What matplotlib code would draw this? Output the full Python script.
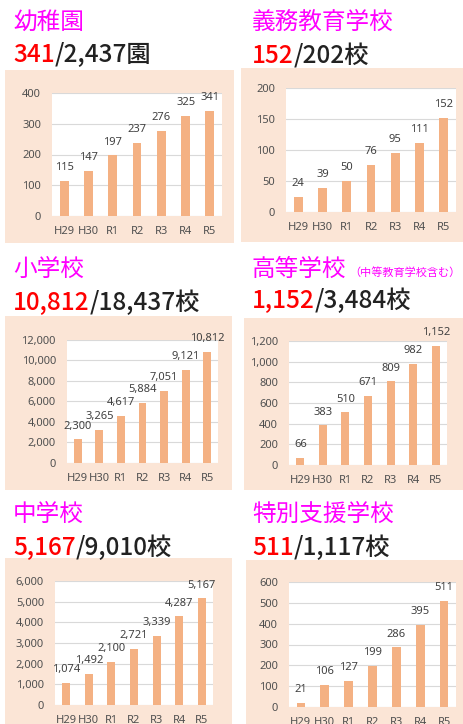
import matplotlib
matplotlib.use("Agg")
import matplotlib.pyplot as plt
from matplotlib.patches import Rectangle

W, H = 464, 724

years = ["H29", "H30", "R1", "R2", "R3", "R4", "R5"]
kindergarten = [115, 147, 197, 237, 276, 325, 341]
compulsory = [24, 39, 50, 76, 95, 111, 152]
elementary = [2300, 3265, 4617, 5884, 7051, 9121, 10812]
high_school = [66, 383, 510, 671, 809, 982, 1152]
junior_high = [1074, 1492, 2100, 2721, 3339, 4287, 5167]
special_needs = [21, 106, 127, 199, 286, 395, 511]

titles = ["幼稚園", "義務教育学校", "小学校", "高等学校", "中学校", "特別支援学校"]
current = ["341", "152", "10,812", "1,152", "5,167", "511"]
totals = ["/2,437園", "/202校", "/18,437校", "/3,484校", "/9,010校", "/1,117校"]
series = [kindergarten, compulsory, elementary, high_school, junior_high, special_needs]
y_max = [400, 200, 12000, 1200, 6000, 600]
y_step = [100, 50, 2000, 200, 1000, 100]

# layout in pixels (x0, y0, x1, y1), y from top
boxes = [(5, 70, 234, 243), (241, 68, 464, 242), (5, 316, 232, 490),
         (244, 318, 464, 490), (5, 558, 232, 724), (246, 560, 464, 724)]
plots = [(52, 93, 222, 216), (286, 88, 456, 212), (67, 340, 218, 463),
         (289, 341, 447, 465), (55, 581, 213, 705), (289, 582, 456, 707)]
title_pos = [(13, 22), (252, 22), (13, 269), (252, 269), (13, 514), (252, 514)]
sub_pos = [(13, 62), (252, 63), (13, 310), (252, 308), (13, 555), (252, 555)]

BAR = "#f4b183"
BG = "#fbe5d6"
MAGENTA = "#ff00ff"
TICK_FONT = ["Noto Sans", "DejaVu Sans"]
SUB_FONT = ["Noto Sans CJK JP", "DejaVu Sans"]


def fx(x):
    return x / W


def fy(y):
    return 1 - y / H


fig = plt.figure(figsize=(W / 100, H / 100), dpi=100)
fig.patch.set_facecolor("white")

for i in range(6):
    x0, y0, x1, y1 = boxes[i]
    fig.patches.append(Rectangle((fx(x0), fy(y1)), fx(x1 - x0), (y1 - y0) / H,
                                 transform=fig.transFigure, facecolor=BG,
                                 edgecolor="none", zorder=-1))

    px0, py0, px1, py1 = plots[i]
    ax = fig.add_axes([fx(px0), fy(py1), fx(px1 - px0), (py1 - py0) / H])
    ax.set_facecolor("white")
    values = series[i]
    bars = ax.bar(years, values, width=0.36, color=BAR, zorder=2)
    for rect, v in zip(bars, values):
        ax.annotate(f"{v:,}", (rect.get_x() + rect.get_width() / 2, v),
                    xytext=(0, 9.5), textcoords="offset points", ha="center",
                    va="center", fontsize=8, color="#404040",
                    family=TICK_FONT, annotation_clip=False)
    ax.set_xlim(-0.5, 6.5)
    ax.set_ylim(0, y_max[i])
    ax.set_yticks(range(0, y_max[i] + 1, y_step[i]))
    ax.set_yticklabels([f"{t:,}" for t in range(0, y_max[i] + 1, y_step[i])])
    ax.tick_params(length=0, labelsize=8, labelcolor="#505050")
    ax.tick_params(axis="y", pad=8)
    ax.tick_params(axis="x", pad=7)
    for lab in ax.get_xticklabels() + ax.get_yticklabels():
        lab.set_family(TICK_FONT)
    ax.grid(axis="y", color="#d9d9d9", linewidth=0.8, zorder=1)
    ax.set_axisbelow(True)
    for s in ax.spines.values():
        s.set_visible(False)

    tx, ty = title_pos[i]
    fig.text(fx(tx), fy(ty), titles[i], color=MAGENTA, fontsize=17,
             family="Noto Sans CJK JP", va="center", ha="left")

fig.text(fx(349), fy(273), "（中等教育学校含む）", color=MAGENTA, fontsize=8,
         family="Noto Sans CJK JP", va="center", ha="left")

renderer = fig.canvas.get_renderer()
for i in range(6):
    sx, sy = sub_pos[i]
    red = fig.text(fx(sx), fy(sy), current[i], color="#ff0000", fontsize=17.5,
                   family=SUB_FONT, weight="medium", va="baseline", ha="left")
    ext = red.get_window_extent(renderer)
    fig.text(ext.x1 / W, fy(sy), totals[i], color="#222222", fontsize=17.5,
             family=SUB_FONT, weight="medium", va="baseline", ha="left")

fig.savefig("out.png", dpi=100)
plt.close(fig)
